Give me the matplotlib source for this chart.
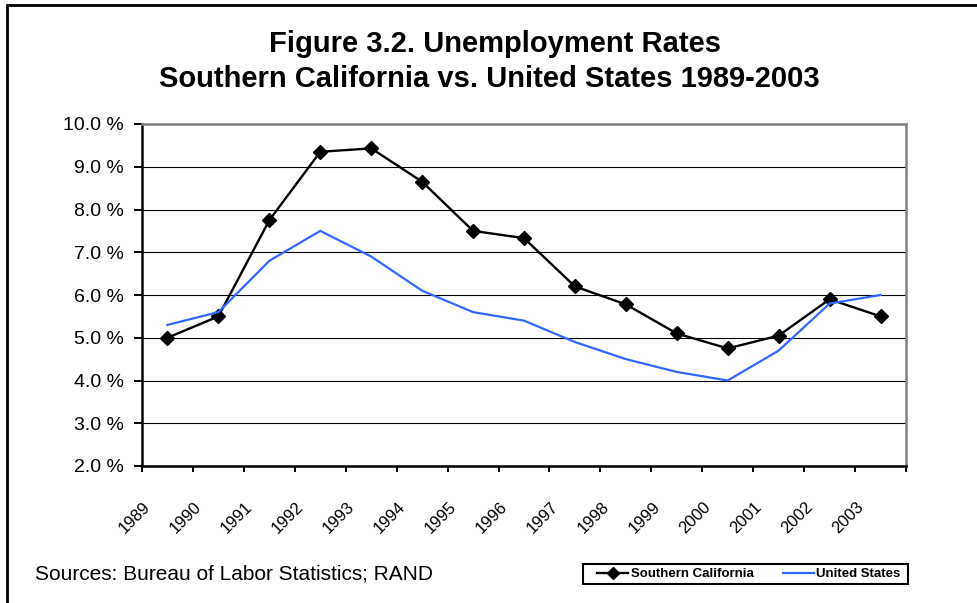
import matplotlib
matplotlib.use('Agg')
import matplotlib.pyplot as plt
from matplotlib.lines import Line2D
from matplotlib.patches import Rectangle
from matplotlib.transforms import ScaledTranslation

plt.rcParams['font.family'] = ['Liberation Sans', 'DejaVu Sans']

# unemployment rates, percent
years = ['1989', '1990', '1991', '1992', '1993', '1994', '1995', '1996',
         '1997', '1998', '1999', '2000', '2001', '2002', '2003']
socal = [5.0, 5.5, 7.75, 9.35, 9.43, 8.65, 7.5, 7.33, 6.2, 5.78, 5.1, 4.75, 5.05, 5.9, 5.5]
usa = [5.3, 5.6, 6.8, 7.5, 6.9, 6.1, 5.6, 5.4, 4.9, 4.5, 4.2, 4.0, 4.7, 5.8, 6.0]
yticks = [2, 3, 4, 5, 6, 7, 8, 9, 10]

W, H = 978, 603
fig = plt.figure(figsize=(W / 100, H / 100), dpi=100)
ax = fig.add_axes([142 / W, 1 - 466 / H, (906 - 142) / W, (466 - 124) / H])

x = list(range(len(years)))
ax.plot(x, socal, color='black', lw=1.7, marker='D', markersize=7.5, zorder=3,
        label='Southern California')
ax.plot(x, usa, color='#3366FF', lw=1.6, zorder=4, label='United States')

ax.set_xlim(-0.5, len(years) - 0.5)
ax.set_ylim(2, 10)

# y axis
ax.set_yticks(yticks)
ax.set_yticklabels(['%.1f %%' % v for v in yticks], fontsize=14)
ax.tick_params(axis='y', direction='out', length=5.8, width=1.4, pad=7)
ax.set_axisbelow(True)
ax.yaxis.grid(True, color='black', lw=0.8)

# x axis: tick marks between years, labels under each year
ax.set_xticks([i - 0.5 for i in range(len(years) + 1)])
ax.set_xticklabels([])
ax.set_xticks(x, minor=True)
ax.set_xticklabels(years, minor=True, fontsize=12, rotation=45, ha='right')
ax.tick_params(axis='x', which='major', direction='out', length=4.5, width=1.4)
ax.tick_params(axis='x', which='minor', length=0, pad=24)
shift = ScaledTranslation(-14 / 100, 0, fig.dpi_scale_trans)
for lbl in ax.get_xticklabels(minor=True):
    lbl.set_transform(lbl.get_transform() + shift)

for side in ['left', 'bottom']:
    ax.spines[side].set_color('black')
    ax.spines[side].set_linewidth(1.8)
for side in ['top', 'right']:
    ax.spines[side].set_color('#808080')
    ax.spines[side].set_linewidth(1.8)

# titles
fig.text(495 / W, 1 - 52 / H, 'Figure 3.2. Unemployment Rates', ha='center',
         va='baseline', fontsize=21, fontweight='bold')
fig.text(489 / W, 1 - 87 / H, 'Southern California vs. United States 1989-2003',
         ha='center', va='baseline', fontsize=21, fontweight='bold')

fig.text(35 / W, 1 - 580 / H, 'Sources: Bureau of Labor Statistics; RAND',
         ha='left', va='baseline', fontsize=15)

# legend: frame drawn separately, entries placed inside it
fig.add_artist(Rectangle((583 / W, 1 - 584 / H), (908 - 583) / W, 20 / H,
                         transform=fig.transFigure, fill=False, lw=1.5,
                         ec='black', zorder=5))
handles = [Line2D([], [], color='black', lw=1.7, marker='D', markersize=6.5),
           Line2D([], [], color='#3366FF', lw=1.6)]
fig.legend(handles, ['Southern California', 'United States'],
           loc='center left', bbox_to_anchor=(597 / W, 1 - 574 / H), ncol=2,
           frameon=False, prop={'weight': 'bold', 'size': 9.5}, borderpad=0,
           borderaxespad=0, handlelength=2.35, handletextpad=0.2,
           columnspacing=2.2)

# outer border (right and bottom edges fall outside the image)
fig.add_artist(Rectangle((7 / W, -0.05), 1.0, 1.05 - 5 / H,
                         transform=fig.transFigure, fill=False, lw=2,
                         ec='black'))

fig.savefig('out.png', dpi=100)
